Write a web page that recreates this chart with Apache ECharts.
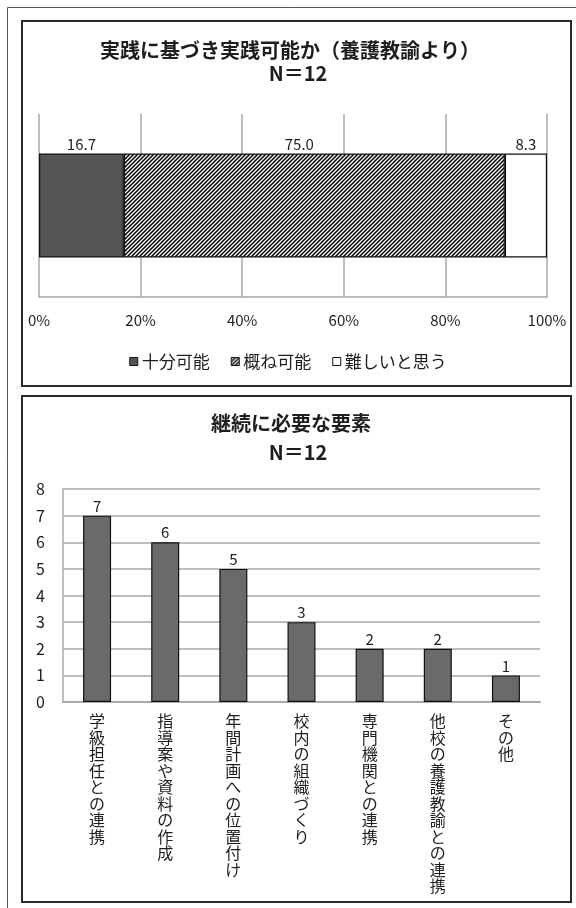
<!DOCTYPE html>
<html>
<head>
<meta charset="utf-8">
<script src="https://cdn.jsdelivr.net/npm/echarts@6/dist/echarts.min.js"></script>
<style>
html,body{margin:0;padding:0;background:#fff;}
#c{width:576px;height:908px;}
</style>
</head>
<body>
<div id="c"></div>
<script>
// ---- data: chart 1 ----
const title1 = '実践に基づき実践可能か（養護教諭より）';
const subtitle1 = 'N＝12';
const cats1 = ['十分可能', '概ね可能', '難しいと思う'];
const vals1 = [16.7, 75.0, 8.3];
const pctTicks = [0, 20, 40, 60, 80, 100];

// ---- data: chart 2 ----
const title2 = '継続に必要な要素';
const subtitle2 = 'N＝12';
const cats2 = ['学級担任との連携', '指導案や資料の作成', '年間計画への位置付け', '校内の組織づくり', '専門機関との連携', '他校の養護教諭との連携', 'その他'];
const vals2 = [7, 6, 5, 3, 2, 2, 1];
const countTicks = [0, 1, 2, 3, 4, 5, 6, 7, 8];

const FONT = '"Noto Sans CJK JP", "Noto Sans", sans-serif';
const TXT = '#1e1e1e';
const GRID = '#a8a8a8';

// hatch pattern
function makeHatch() {
  const c = document.createElement('canvas');
  c.width = 4; c.height = 4;
  const g = c.getContext('2d');
  g.fillStyle = '#fff'; g.fillRect(0, 0, 4, 4);
  g.strokeStyle = '#000'; g.lineWidth = 1.5;
  g.beginPath();
  g.moveTo(-1, 5); g.lineTo(5, -1);
  g.moveTo(-1, 1); g.lineTo(1, -1);
  g.moveTo(3, 5); g.lineTo(5, 3);
  g.stroke();
  return { image: c, repeat: 'repeat' };
}
const hatch = makeHatch();
const fills1 = ['#555555', hatch, '#ffffff'];
const labelOffsets1 = [[0, 0], [-15, 0], [0, 0]];

const chart = echarts.init(document.getElementById('c'), null, { renderer: 'canvas' });

const series1 = cats1.map((name, i) => ({
  name: name,
  type: 'bar',
  stack: 'total',
  xAxisIndex: 0,
  yAxisIndex: 0,
  barWidth: 104,
  data: [vals1[i]],
  itemStyle: { color: fills1[i], borderColor: '#111', borderWidth: 1.2 },
  label: {
    show: true,
    position: 'top',
    distance: 2,
    offset: labelOffsets1[i],
    formatter: p => p.value.toFixed(1),
    fontFamily: FONT, fontSize: 15, color: TXT
  },
  emphasis: { disabled: true }
}));

const option = {
  animation: false,
  backgroundColor: '#fff',
  textStyle: { fontFamily: FONT },
  graphic: [
    { type: 'line', shape: { x1: 7.5, y1: 7.5, x2: 576, y2: 7.5 }, style: { stroke: '#555', lineWidth: 1 } },
    { type: 'line', shape: { x1: 7.5, y1: 7.5, x2: 7.5, y2: 908 }, style: { stroke: '#555', lineWidth: 1 } },
    { type: 'rect', shape: { x: 22, y: 21, width: 549, height: 365 }, style: { fill: null, stroke: '#2a2a2a', lineWidth: 2 } },
    { type: 'rect', shape: { x: 22, y: 396, width: 549, height: 506 }, style: { fill: null, stroke: '#2a2a2a', lineWidth: 2 } },
    { type: 'text', x: 290, y: 50, style: { text: title1, font: 'bold 20px ' + FONT, fill: TXT, align: 'center', verticalAlign: 'middle' } },
    { type: 'text', x: 298, y: 73, style: { text: subtitle1, font: 'bold 20px ' + FONT, fill: TXT, align: 'center', verticalAlign: 'middle' } },
    { type: 'text', x: 291, y: 423, style: { text: title2, font: 'bold 20px ' + FONT, fill: TXT, align: 'center', verticalAlign: 'middle' } },
    { type: 'text', x: 298, y: 452, style: { text: subtitle2, font: 'bold 20px ' + FONT, fill: TXT, align: 'center', verticalAlign: 'middle' } }
  ],
  legend: {
    data: cats1,
    top: 348,
    left: 'center',
    icon: 'rect',
    itemWidth: 8,
    itemHeight: 8,
    itemGap: 21,
    itemStyle: { borderColor: '#111', borderWidth: 1 },
    textStyle: { fontFamily: FONT, fontSize: 17, color: TXT, padding: [0, 0, 0, -1] },
    selectedMode: false
  },
  grid: [
    { left: 39, top: 114, width: 508, height: 183, containLabel: false },
    { left: 63, top: 489, width: 477, height: 213, containLabel: false }
  ],
  xAxis: [
    {
      gridIndex: 0, type: 'value',
      min: pctTicks[0], max: pctTicks[pctTicks.length - 1], interval: pctTicks[1] - pctTicks[0],
      axisLine: { show: true, lineStyle: { color: GRID, width: 1.5 } },
      axisTick: { show: false },
      splitLine: { show: true, showMinLine: true, showMaxLine: true, lineStyle: { color: GRID, width: 1.5 } },
      axisLabel: { formatter: '{value}%', fontFamily: FONT, fontSize: 15, color: TXT, margin: 16 }
    },
    {
      gridIndex: 1, type: 'category', data: cats2,
      axisLine: { show: true, lineStyle: { color: GRID, width: 2 } },
      axisTick: { show: false },
      axisLabel: {
        interval: 0, margin: 11, fontFamily: FONT, fontSize: 16, lineHeight: 16.5, color: TXT,
        verticalAlign: 'top',
        formatter: v => v.split('').join('\n')
      }
    }
  ],
  yAxis: [
    {
      gridIndex: 0, type: 'category', data: [''],
      axisLine: { show: false }, axisTick: { show: false }, axisLabel: { show: false }
    },
    {
      gridIndex: 1, type: 'value',
      min: countTicks[0], max: countTicks[countTicks.length - 1], interval: countTicks[1] - countTicks[0],
      axisLine: { show: true, lineStyle: { color: GRID, width: 1.5 } },
      axisTick: { show: false },
      splitLine: { show: true, lineStyle: { color: GRID, width: 1.5 } },
      axisLabel: { fontFamily: FONT, fontSize: 16, color: TXT, margin: 18 }
    }
  ],
  series: series1.concat([
    {
      name: '継続に必要な要素',
      type: 'bar',
      xAxisIndex: 1,
      yAxisIndex: 1,
      barWidth: 28,
      data: vals2,
      itemStyle: { color: '#6a6a6c', borderColor: '#111', borderWidth: 1.2 },
      label: { show: true, position: 'top', distance: 2, fontFamily: FONT, fontSize: 15, color: TXT },
      emphasis: { disabled: true }
    }
  ])
};

chart.setOption(option);
</script>
</body>
</html>
